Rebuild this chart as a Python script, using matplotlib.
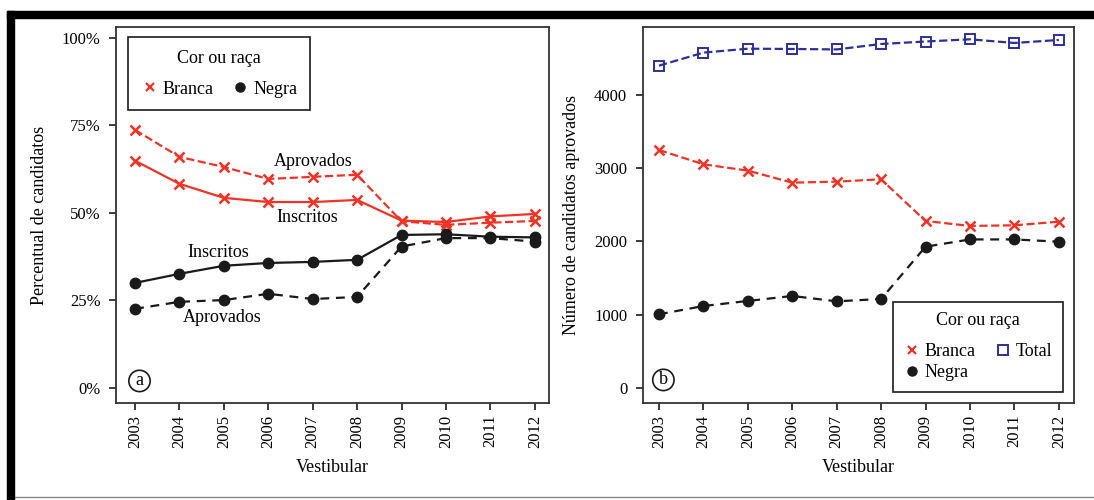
import matplotlib
matplotlib.use('Agg')
import matplotlib.pyplot as plt
from matplotlib.patches import Rectangle
from matplotlib.lines import Line2D
from matplotlib.ticker import FuncFormatter

plt.rcParams['font.family'] = ['Liberation Serif', 'DejaVu Serif']
plt.rcParams['font.size'] = 13

# data
years = [2003, 2004, 2005, 2006, 2007, 2008, 2009, 2010, 2011, 2012]

branca_inscritos = [64.9, 58.3, 54.3, 53.1, 53.1, 53.7, 47.8, 47.4, 49.0, 49.7]
branca_aprovados = [73.7, 66.0, 63.1, 59.7, 60.3, 60.9, 47.6, 46.6, 47.2, 47.7]
negra_inscritos = [30.0, 32.6, 34.9, 35.7, 36.0, 36.6, 43.7, 43.9, 43.2, 43.0]
negra_aprovados = [22.6, 24.6, 25.1, 26.9, 25.4, 26.0, 40.4, 42.8, 42.8, 41.8]

total_n = [4400, 4578, 4632, 4628, 4622, 4696, 4730, 4760, 4710, 4751]
branca_n = [3249, 3054, 2967, 2803, 2817, 2849, 2280, 2212, 2221, 2270]
negra_n = [1006, 1119, 1188, 1256, 1183, 1215, 1929, 2028, 2028, 1997]

RED = '#f03325'
BLK = '#1a1a1a'
BLUE = '#2e2e9a'
FS = 13

fig = plt.figure(figsize=(10.94, 5.0), dpi=100)
ax1 = fig.add_axes([0.106, 0.194, 0.3958, 0.752])
ax2 = fig.add_axes([0.5873, 0.194, 0.3944, 0.752])

# ---- panel a
ax1.plot(years, branca_inscritos, '-', color=RED, lw=1.6, marker='x', ms=7, mew=1.8)
ax1.plot(years, branca_aprovados, '--', color=RED, lw=1.6, marker='x', ms=7, mew=1.8)
ax1.plot(years, negra_inscritos, '-', color=BLK, lw=1.6, marker='o', ms=7.5)
ax1.plot(years, negra_aprovados, '--', color=BLK, lw=1.6, marker='o', ms=7.5, dashes=(4, 3))

ax1.text(2007.0, 64.6, 'Aprovados', ha='center', va='center', fontsize=FS)
ax1.text(2006.87, 48.6, 'Inscritos', ha='center', va='center', fontsize=FS)
ax1.text(2004.87, 38.6, 'Inscritos', ha='center', va='center', fontsize=FS)
ax1.text(2004.96, 20.0, 'Aprovados', ha='center', va='center', fontsize=FS)

ax1.set_xlim(2002.57, 2012.32)
ax1.set_ylim(-4.3, 103.1)
ax1.set_yticks([0, 25, 50, 75, 100])
ax1.yaxis.set_major_formatter(FuncFormatter(lambda v, p: f'{v:.0f}%'))
ax1.set_ylabel('Percentual de candidatos', fontsize=FS, labelpad=10)
ax1.text(2003.1, 2, 'a', ha='center', va='center', fontsize=FS,
         bbox=dict(boxstyle='circle,pad=0.12', fc='white', ec=BLK, lw=1.2))

h1 = [Line2D([], [], ls='none', marker='x', color=RED, ms=6, mew=1.6),
      Line2D([], [], ls='none', marker='o', color=BLK, ms=6.5)]
leg1 = ax1.legend(h1, ['Branca', 'Negra'], title='Cor ou raça', ncol=2,
                  loc='upper left', bbox_to_anchor=(0.028, 0.973), borderaxespad=0,
                  fancybox=False, edgecolor=BLK, framealpha=1,
                  handletextpad=0.2, columnspacing=1.0, handlelength=1.0,
                  borderpad=0.7, labelspacing=0.4, fontsize=FS, title_fontsize=FS)
leg1.get_frame().set_linewidth(1.2)
leg1._legend_box.sep = 10

# ---- panel b
ax2.plot(years, total_n, '--', color=BLUE, lw=1.6, marker='s', ms=7, mfc='none', mew=1.4)
ax2.plot(years, branca_n, '--', color=RED, lw=1.6, marker='x', ms=7, mew=1.8)
ax2.plot(years, negra_n, '--', color=BLK, lw=1.6, marker='o', ms=7.5, dashes=(4, 3))

ax2.set_xlim(2002.63, 2012.34)
ax2.set_ylim(-205, 4928)
ax2.set_yticks([0, 1000, 2000, 3000, 4000])
ax2.set_ylabel('Número de candidatos aprovados', fontsize=FS, labelpad=10)
ax2.text(2003.1, 110, 'b', ha='center', va='center', fontsize=FS,
         bbox=dict(boxstyle='circle,pad=0.12', fc='white', ec=BLK, lw=1.2))

h2 = [Line2D([], [], ls='none', marker='x', color=RED, ms=6, mew=1.6),
      Line2D([], [], ls='none', marker='o', color=BLK, ms=6.5),
      Line2D([], [], ls='none', marker='s', color=BLUE, ms=6.5, mfc='none', mew=1.4)]
leg2 = ax2.legend(h2, ['Branca', 'Negra', 'Total'], title='Cor ou raça', ncol=2,
                  loc='lower right', bbox_to_anchor=(0.975, 0.03), borderaxespad=0,
                  fancybox=False, edgecolor=BLK, framealpha=1,
                  handletextpad=0.2, columnspacing=1.0, handlelength=1.0,
                  borderpad=0.6, labelspacing=0.2, fontsize=FS, title_fontsize=FS)
leg2.get_frame().set_linewidth(1.2)
leg2._legend_box.sep = 10

for ax in (ax1, ax2):
    ax.set_xticks(years)
    ax.set_xticklabels([str(y) for y in years], rotation=90)
    ax.set_xlabel('Vestibular', fontsize=FS, labelpad=8)
    ax.tick_params(direction='out', length=5, width=1.2, labelsize=12, color=BLK)
    ax.tick_params(axis='y', pad=6)
    for s in ax.spines.values():
        s.set_linewidth(1.3)
        s.set_color('#333333')

# black frame of the scanned figure
fig.add_artist(Rectangle((7 / 1094, 1 - 18 / 500), 1, 7 / 500, transform=fig.transFigure,
                         color='black', zorder=10))
fig.add_artist(Rectangle((7 / 1094, 0), 7 / 1094, 489 / 500, transform=fig.transFigure,
                         color='black', zorder=10))
fig.add_artist(Line2D([14 / 1094, 1], [3 / 500, 3 / 500], transform=fig.transFigure,
                      color='#888888', lw=1))

fig.savefig('out.png', dpi=100)
